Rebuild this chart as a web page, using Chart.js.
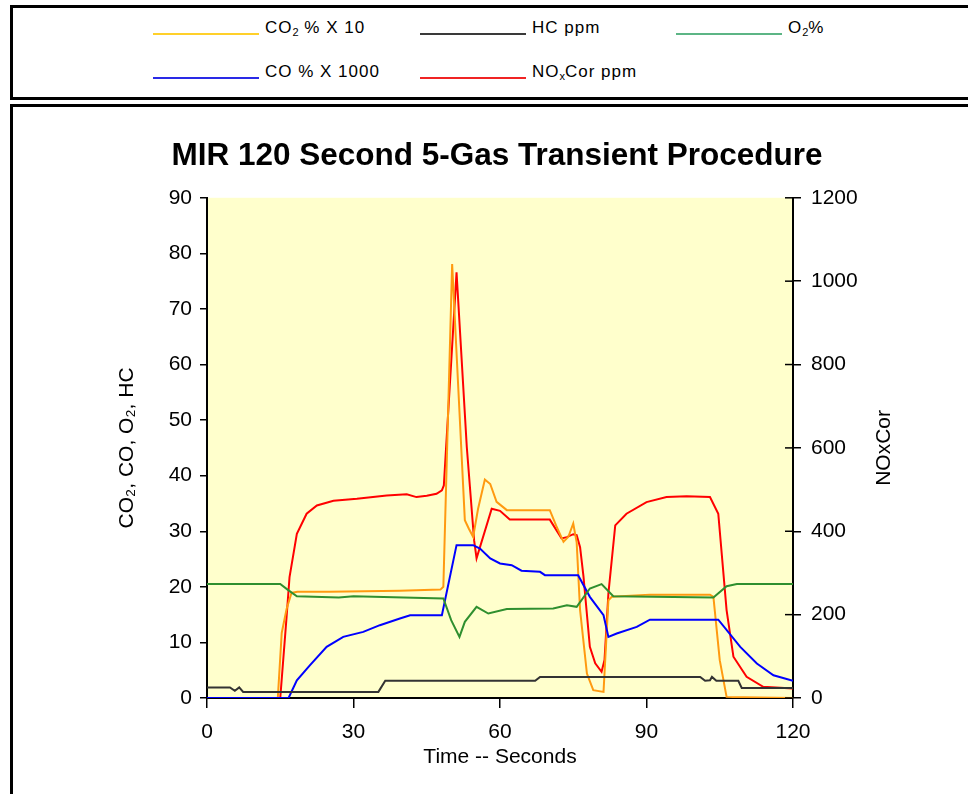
<!DOCTYPE html>
<html>
<head>
<meta charset="utf-8">
<script src="https://cdn.jsdelivr.net/npm/chart.js@4.4.1/dist/chart.umd.min.js"></script>
<style>
  html, body { margin: 0; padding: 0; background: #fff; }
  body { width: 968px; height: 794px; position: relative; overflow: hidden; font-family: Arial, "Liberation Sans", sans-serif; }
  .box { position: absolute; border: 3px solid #000; box-sizing: border-box; }
  #legendBox { left: 10px; top: 5px; width: 980px; height: 95px; }
  #chartBox { left: 10px; top: 104px; width: 980px; height: 720px; }
  .lg-line { position: absolute; height: 2px; }
  .lg-text { position: absolute; font-size: 17px; line-height: 20px; letter-spacing: 1px; color: #000; white-space: nowrap; }
  .lg-text sub { font-size: 11px; vertical-align: -3px; letter-spacing: 0; }
  #chart { position: absolute; left: 0; top: 0; }
</style>
</head>
<body>
<div class="box" id="legendBox"></div>
<div class="box" id="chartBox"></div>
<div id="legend"></div>
<canvas id="chart" width="968" height="794"></canvas>
<script>
// time (s) / value pairs, one pair of arrays per gas
var co2Time = [0, 14.5, 15.3, 16.3, 17.3, 18.5, 25, 39.5, 47.8, 48.4, 50.2, 51.5, 52.8, 53.6, 54.5, 55.5, 56.9, 58, 59.3, 61.4, 66, 70.2, 71.5, 73, 74, 75, 75.7, 76.4, 77.8, 79.1, 81.2, 82.2, 82.9, 90.7, 103, 103.7, 105, 106.4, 120];
var co2Vals = [0, 0, 11.7, 16, 18.9, 19.1, 19.1, 19.3, 19.5, 20, 78.1, 55, 32, 30.5, 29, 34, 39.3, 38.5, 35.3, 33.8, 33.8, 33.8, 31, 28.1, 29, 31.4, 28, 15.8, 4.4, 1.4, 1.1, 17.6, 18.2, 18.6, 18.6, 18.2, 6.8, 0.2, 0];

var hcTime = [0, 4.7, 5.7, 6.6, 7.4, 35.1, 36.5, 67.2, 68.2, 101, 102, 103, 103.4, 104.3, 108.8, 109.5, 120];
var hcVals = [1.9, 1.9, 1.3, 1.9, 1.1, 1.1, 3.1, 3.1, 3.8, 3.8, 3.1, 3.2, 3.8, 3.1, 3.1, 1.8, 1.8];

var o2Time = [0, 15, 16.5, 18.4, 27, 30, 48.4, 50, 51.7, 52.8, 55.2, 57.6, 61.4, 70.9, 73.7, 75.7, 78.4, 80.8, 83.2, 103.7, 106.4, 108.5, 120];
var o2Vals = [20.5, 20.5, 19.5, 18.3, 18.1, 18.3, 17.9, 14, 11, 13.7, 16.4, 15.2, 16, 16.1, 16.7, 16.4, 19.7, 20.5, 18.3, 18.1, 20.1, 20.5, 20.5];

var coTime = [0, 16.7, 18.4, 21.1, 24.5, 27.9, 32, 35.4, 39.5, 41.6, 48.1, 51.1, 54.5, 55.9, 58, 60, 62.4, 64.4, 68.2, 69.2, 76, 78.4, 81.2, 82.2, 83.9, 88, 90.7, 104.7, 109.2, 112.6, 116, 120];
var coVals = [0, 0, 3.2, 5.9, 9.2, 11, 11.9, 13.1, 14.3, 14.9, 14.9, 27.5, 27.5, 26.9, 25.1, 24.2, 23.9, 22.9, 22.7, 22.1, 22.1, 18.2, 14.9, 11, 11.6, 12.8, 14.1, 14.1, 9.2, 6.2, 4.1, 3.1];

var noxTime = [0, 15, 16.3, 16.9, 18.4, 20.4, 22.5, 25.9, 30.7, 36.8, 40.9, 42.9, 45, 47, 48.1, 48.5, 51.1, 53.2, 54.7, 55.2, 58.3, 60, 62, 70.2, 72.6, 73.7, 75, 75.7, 76.4, 77.1, 78.4, 79.5, 80.8, 81.4, 82.2, 83.6, 85.9, 90, 94.1, 98.2, 103, 104.7, 106.4, 107.8, 110.5, 113.9, 120];
var noxVals = [0, 0, 195, 290, 394, 442, 462, 473, 478, 486, 489, 482, 485, 490, 498, 510, 1021, 602, 378, 335, 454, 449, 428, 428, 383, 386, 393, 391, 362, 291, 123, 83, 63, 91, 251, 414, 442, 470, 482, 484, 482, 442, 211, 99, 51, 27, 23];

var leftTicks = [0, 90, 10];
var rightTicks = [0, 1200, 200];
var timeTicks = [0, 120, 30];

function pairs(t, v) {
    var out = [];
    for (var i = 0; i < t.length; i++) {
        out.push({ x: t[i], y: v[i] });
    }
    return out;
}

// legend is drawn as html, the reference uses lighter colours there
var legendItems = [
    { html: "CO<sub>2</sub> % X 10", color: "#ffd02a", x: 153, row: 0 },
    { html: "HC ppm", color: "#3a3a3a", x: 420, row: 0 },
    { html: "O<sub>2</sub>%", color: "#5cb585", x: 676, row: 0 },
    { html: "CO % X 1000", color: "#2a2ae6", x: 153, row: 1 },
    { html: "NO<sub>x</sub>Cor ppm", color: "#f02424", x: 420, row: 1 }
];
var legendEl = document.getElementById("legend");
legendItems.forEach(function (item) {
    var lineY = item.row === 0 ? 33 : 77;
    var line = document.createElement("div");
    line.className = "lg-line";
    line.style.left = item.x + "px";
    line.style.top = lineY + "px";
    line.style.width = "106px";
    line.style.background = item.color;
    legendEl.appendChild(line);
    var txt = document.createElement("div");
    txt.className = "lg-text";
    txt.style.left = (item.x + 112) + "px";
    txt.style.top = (lineY - 15) + "px";
    txt.innerHTML = item.html;
    legendEl.appendChild(txt);
});

var plotBg = {
    id: "plotBg",
    beforeDraw: function (chart) {
        var a = chart.chartArea;
        var ctx = chart.ctx;
        ctx.save();
        ctx.fillStyle = "#ffffcc";
        ctx.fillRect(a.left, a.top, a.right - a.left, a.bottom - a.top);
        ctx.restore();
    }
};

// right axis title reads bottom-to-top in the reference, and its ticks cross the axis line
var rightAxisExtras = {
    id: "rightAxisExtras",
    afterDraw: function (chart) {
        var a = chart.chartArea;
        var ctx = chart.ctx;
        var scale = chart.scales.y1;
        ctx.save();
        ctx.strokeStyle = "#000";
        ctx.lineWidth = 1.5;
        scale.ticks.forEach(function (tk) {
            var y = scale.getPixelForValue(tk.value);
            ctx.beginPath();
            ctx.moveTo(a.right - 8, y);
            ctx.lineTo(a.right, y);
            ctx.stroke();
        });
        ctx.translate(884, (a.top + a.bottom) / 2);
        ctx.rotate(-Math.PI / 2);
        ctx.fillStyle = "#000";
        ctx.font = "21px Arial, 'Liberation Sans', sans-serif";
        ctx.textAlign = "center";
        ctx.textBaseline = "middle";
        ctx.fillText("NOxCor", 0, 0);
        ctx.restore();
    }
};

function lineSet(label, t, v, color, axis) {
    return {
        label: label,
        data: pairs(t, v),
        borderColor: color,
        backgroundColor: color,
        borderWidth: 2,
        pointRadius: 0,
        tension: 0,
        fill: false,
        yAxisID: axis
    };
}

var tickFont = { family: "Arial, 'Liberation Sans', sans-serif", size: 21 };

var chart = new Chart(document.getElementById("chart").getContext("2d"), {
    type: "line",
    data: {
        datasets: [
            lineSet("HC ppm", hcTime, hcVals, "#333333", "y"),
            lineSet("O2%", o2Time, o2Vals, "#2f8f2f", "y"),
            lineSet("CO % X 1000", coTime, coVals, "#0000ff", "y"),
            lineSet("CO2 % X 10", co2Time, co2Vals, "#ff9a10", "y"),
            lineSet("NOxCor ppm", noxTime, noxVals, "#ff0000", "y1")
        ]
    },
    options: {
        responsive: false,
        animation: false,
        // left padding shifts the centred title over the plot, as in the reference
        layout: { padding: { left: 26, right: 0, top: 0, bottom: 0 } },
        plugins: {
            legend: { display: false },
            tooltip: { enabled: false },
            title: {
                display: true,
                text: "MIR 120 Second 5-Gas Transient Procedure",
                color: "#000",
                font: { family: "Arial, 'Liberation Sans', sans-serif", size: 31.5, weight: "bold", lineHeight: 1.2 },
                padding: { top: 137, bottom: 23 }
            }
        },
        scales: {
            x: {
                type: "linear",
                min: timeTicks[0],
                max: timeTicks[1],
                ticks: { stepSize: timeTicks[2], color: "#000", font: tickFont, padding: 12, maxRotation: 0 },
                grid: { drawOnChartArea: false, tickLength: 10, color: "#000", lineWidth: 1.5 },
                border: { color: "#000", width: 2 },
                title: {
                    display: true,
                    text: "Time -- Seconds",
                    color: "#000",
                    font: tickFont,
                    padding: { top: 0, bottom: 24 }
                },
                afterFit: function (scale) { scale.height = 96; }
            },
            y: {
                position: "left",
                min: leftTicks[0],
                max: leftTicks[1],
                ticks: { stepSize: leftTicks[2], color: "#000", font: tickFont, padding: 8 },
                grid: { drawOnChartArea: false, tickLength: 7, color: "#000", lineWidth: 1.5 },
                border: { color: "#000", width: 2 },
                title: {
                    display: true,
                    text: "CO\u2082, CO, O\u2082, HC",
                    color: "#000",
                    font: tickFont,
                    padding: { top: 89, bottom: 0 }
                },
                afterFit: function (scale) { scale.width = 181; }
            },
            y1: {
                position: "right",
                min: rightTicks[0],
                max: rightTicks[1],
                ticks: {
                    stepSize: rightTicks[2], color: "#000", font: tickFont, padding: 10,
                    callback: function (value) { return String(value); }
                },
                grid: { drawOnChartArea: false, tickLength: 8, color: "#000", lineWidth: 1.5 },
                border: { color: "#000", width: 2 },
                afterFit: function (scale) { scale.width = 175; }
            }
        }
    },
    plugins: [plotBg, rightAxisExtras]
});
</script>
</body>
</html>
